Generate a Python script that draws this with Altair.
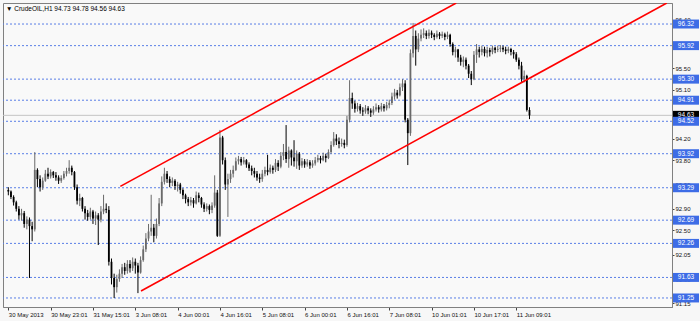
import altair as alt
import pandas as pd

# ---------------- data ----------------
x_tick_labels = ["30 May 2013", "30 May 23:01", "31 May 15:01", "3 Jun 08:01", "4 Jun 00:01",
                 "4 Jun 16:01", "5 Jun 08:01", "6 Jun 00:01", "6 Jun 16:01", "7 Jun 08:01",
                 "10 Jun 01:01", "10 Jun 17:01", "11 Jun 09:01"]

first_open = 93.25
close_ = [
    93.22, 93.12, 93.02, 92.90, 92.78, 92.82, 92.62, 92.70, 92.58, 92.52,
    93.62, 93.45, 93.30, 93.42, 93.55, 93.50, 93.58, 93.52, 93.48, 93.42,
    93.47, 93.55, 93.60, 93.66, 93.58, 93.30, 93.05, 93.10, 92.90, 92.82,
    92.75, 92.85, 92.72, 92.78, 92.70, 92.85, 92.90, 92.88, 91.92, 91.62,
    91.45, 91.60, 91.70, 91.82, 91.75, 91.88, 91.80, 91.92, 91.85, 91.72,
    91.95, 92.15, 92.35, 92.48, 92.55, 92.40, 92.62, 93.00, 93.40, 93.55,
    93.45, 93.38, 93.42, 93.32, 93.35, 93.25, 93.15, 93.08, 93.02, 93.06,
    93.00, 93.15, 93.10, 92.98, 92.90, 92.95, 92.88, 92.96, 93.20, 92.40,
    94.22, 93.80, 93.35, 93.45, 93.55, 93.62, 93.78, 93.82, 93.76, 93.80,
    93.72, 93.65, 93.60, 93.55, 93.48, 93.45, 93.55, 93.62, 93.58, 93.66,
    93.62, 93.75, 93.68, 93.88, 93.95, 93.82, 93.98, 93.85, 93.78, 93.92,
    93.70, 93.78, 93.72, 93.76, 93.70, 93.74, 93.80, 93.84, 93.80, 93.88,
    93.84, 93.95, 94.08, 94.20, 94.15, 94.10, 94.12, 94.08, 94.55, 94.95,
    94.85, 94.75, 94.80, 94.72, 94.70, 94.76, 94.72, 94.68, 94.74, 94.78,
    94.74, 94.80, 94.76, 94.82, 94.86, 94.98, 95.05, 95.00, 95.15, 95.22,
    94.55, 94.30, 95.78, 96.10, 95.85, 96.05, 96.12, 96.15, 96.10, 96.16,
    96.12, 96.08, 96.14, 96.10, 96.13, 96.08, 96.12, 95.95, 95.80, 95.85,
    95.70, 95.62, 95.66, 95.55, 95.40, 95.30, 95.75, 95.85, 95.80, 95.86,
    95.78, 95.84, 95.80, 95.88, 95.84, 95.86, 95.88, 95.85, 95.82, 95.86,
    95.80, 95.76, 95.66, 95.55, 95.30, 95.36, 94.73, 94.63,
]
high_ = [
    93.30, 93.24, 93.15, 93.05, 92.95, 92.90, 92.86, 92.76, 92.74, 92.66,
    93.95, 93.65, 93.52, 93.48, 93.62, 93.66, 93.63, 93.60, 93.58, 93.52,
    93.52, 93.60, 93.66, 93.80, 93.70, 93.60, 93.35, 93.18, 93.12, 92.95,
    92.88, 92.92, 92.88, 92.85, 92.82, 92.95, 93.16, 93.00, 92.95, 91.98,
    91.70, 91.68, 91.78, 91.88, 91.90, 91.95, 91.95, 92.00, 91.98, 91.90,
    92.02, 92.22, 92.45, 92.62, 93.16, 92.62, 92.72, 93.10, 93.50, 93.66,
    93.60, 93.50, 93.48, 93.45, 93.40, 93.38, 93.28, 93.18, 93.12, 93.12,
    93.10, 93.22, 93.20, 93.12, 93.02, 93.00, 92.98, 93.02, 93.52, 93.25,
    94.36, 94.25, 93.85, 93.55, 93.62, 93.70, 93.85, 93.88, 93.86, 93.86,
    93.82, 93.76, 93.70, 93.66, 93.60, 93.55, 93.62, 93.68, 93.90, 93.72,
    93.70, 93.82, 93.80, 93.95, 94.10, 94.45, 94.05, 94.00, 94.17, 93.98,
    93.95, 93.84, 93.82, 93.82, 93.80, 93.80, 93.86, 93.90, 93.88, 93.94,
    93.92, 94.00, 94.15, 94.32, 94.28, 94.22, 94.20, 94.18, 94.62, 95.28,
    95.05, 94.90, 94.86, 94.84, 94.78, 94.82, 94.80, 94.76, 94.80, 94.85,
    94.82, 94.86, 94.84, 94.88, 94.92, 95.05, 95.12, 95.10, 95.22, 95.30,
    95.28, 94.58, 95.85, 96.34, 96.20, 96.15, 96.22, 96.24, 96.20, 96.22,
    96.20, 96.15, 96.20, 96.17, 96.18, 96.16, 96.18, 96.14, 95.98, 95.90,
    95.86, 95.75, 95.72, 95.70, 95.58, 95.45, 95.82, 95.95, 95.90, 95.92,
    95.90, 95.90, 95.88, 95.92, 95.90, 95.92, 95.93, 95.92, 95.90, 95.90,
    95.88, 95.84, 95.80, 95.70, 95.62, 95.46, 95.38, 94.78,
]
low_ = [
    93.15, 93.08, 92.96, 92.85, 92.70, 92.68, 92.55, 92.52, 91.62, 92.30,
    92.48, 93.30, 93.22, 93.25, 93.40, 93.45, 93.46, 93.47, 93.42, 93.36,
    93.38, 93.44, 93.50, 93.55, 93.52, 93.25, 92.98, 92.95, 92.85, 92.70,
    92.68, 92.70, 92.62, 92.60, 92.23, 92.65, 92.80, 92.82, 91.85, 91.50,
    91.25, 91.35, 91.55, 91.62, 91.68, 91.70, 91.72, 91.75, 91.70, 91.34,
    91.70, 91.92, 92.10, 92.30, 92.40, 92.28, 92.35, 92.58, 92.95, 93.35,
    93.38, 93.30, 93.32, 93.25, 93.22, 93.18, 93.08, 93.00, 92.95, 92.96,
    92.92, 92.98, 93.02, 92.92, 92.84, 92.85, 92.80, 92.82, 92.92, 92.38,
    92.38, 93.72, 93.25, 92.75, 93.38, 93.48, 93.60, 93.72, 93.70, 93.72,
    93.66, 93.60, 93.52, 93.48, 93.42, 93.38, 93.40, 93.50, 93.52, 93.55,
    93.55, 93.58, 93.60, 93.65, 93.80, 93.75, 93.66, 93.70, 93.68, 93.64,
    93.62, 93.66, 93.66, 93.68, 93.64, 93.66, 93.70, 93.76, 93.74, 93.78,
    93.76, 93.82, 93.92, 94.05, 94.08, 94.02, 94.05, 94.02, 94.05, 94.50,
    94.75, 94.68, 94.70, 94.66, 94.62, 94.66, 94.65, 94.60, 94.64, 94.70,
    94.68, 94.70, 94.70, 94.72, 94.76, 94.82, 94.92, 94.94, 94.98, 95.08,
    94.50, 93.71, 94.25, 95.70, 95.55, 95.80, 96.00, 96.06, 96.04, 96.05,
    96.06, 96.02, 96.05, 96.04, 96.06, 96.02, 96.04, 95.90, 95.74, 95.70,
    95.62, 95.55, 95.52, 95.48, 95.32, 95.19, 95.28, 95.60, 95.70, 95.74,
    95.72, 95.70, 95.72, 95.76, 95.78, 95.80, 95.80, 95.80, 95.76, 95.78,
    95.74, 95.68, 95.62, 95.48, 95.25, 95.24, 94.70, 94.56,
]

levels = [96.32, 95.92, 95.30, 94.91, 94.52, 93.92, 93.29, 92.69, 92.26, 91.63, 91.25]
bid_price = 94.63
price_ticks = [96.40, 95.95, 95.50, 95.10, 94.65, 94.20, 93.80, 93.35, 92.90,
               92.50, 92.05, 91.60, 91.15]

channel_name = ["upper", "upper", "lower", "lower"]
channel_idx = [42.34, 169.3, 50.16, 248.9]
channel_price = [93.315, 96.709, 91.379, 96.709]

title_text = "\u25BC CrudeOIL,H1  94.73 94.78 94.56 94.63"

# ---------------- tables ----------------
opens = [first_open] + close_[:-1]
rows = []
for i, (o, h, l, c) in enumerate(zip(opens, high_, low_, close_)):
    rows.append(dict(i=i, o=o, h=max(h, o, c), l=min(l, o, c), c=c,
                     dir="up" if c >= o else "down"))
bars = pd.DataFrame(rows)
lev_df = pd.DataFrame({"p": levels})
bid_df = pd.DataFrame({"p": [bid_price]})
chan_df = pd.DataFrame({"g": channel_name, "i": channel_idx, "p": channel_price})
title_df = pd.DataFrame({"t": [title_text]})

FONT = "Liberation Sans"
xscale = alt.Scale(domain=[-0.12, 248.98], nice=False, zero=False)
yscale = alt.Scale(domain=[91.083, 96.709], nice=False, zero=False)

label_js = "[" + ",".join("'%s'" % s for s in x_tick_labels) + "]"
xaxis = alt.Axis(values=list(range(0, 193, 16)), labelExpr=label_js + "[round(datum.value/16)]",
                 title=None, grid=False, orient="bottom", labelAlign="left", labelPadding=1,
                 tickSize=3, labelFont=FONT, labelFontSize=6, labelColor="#111",
                 tickColor="#444", domainColor="#808080", labelOverlap=False,
                 labelBound=False, labelFlush=False)
yaxis = alt.Axis(values=price_ticks, format=".2f", title=None, grid=False, orient="right",
                 tickSize=2, labelPadding=1, labelFont=FONT, labelFontSize=6,
                 labelColor="#111", tickColor="#444", domainColor="#808080",
                 labelOverlap=False, labelBound=False, labelFlush=False)

X = lambda f: alt.X(f, type="quantitative", scale=xscale, axis=xaxis)
Y = lambda f: alt.Y(f, type="quantitative", scale=yscale, axis=yaxis)

dir_color = alt.Color("dir:N", scale=alt.Scale(domain=["up", "down"],
                                               range=["#6a6a6a", "#000000"]), legend=None)

level_lines = alt.Chart(lev_df).mark_rule(color="#5a7fe6", strokeDash=[2, 2],
                                          strokeWidth=1).encode(y=Y("p"))
bid_line = alt.Chart(bid_df).mark_rule(color="#c4c4c4", strokeWidth=1).encode(y=Y("p"))

wicks = alt.Chart(bars).mark_rule(strokeWidth=1).encode(
    x=X("i"), y=Y("l"), y2="h", color=dir_color)
bodies = alt.Chart(bars).mark_bar(width=1.8).encode(
    x=X("i"), y=Y("o"), y2="c", color=dir_color)

channel = alt.Chart(chan_df).mark_line(color="#ff0000", strokeWidth=1.6, clip=True).encode(
    x=X("i"), y=Y("p"), detail="g:N")

bid_box = alt.Chart(bid_df).transform_calculate(
    lo="datum.p - 0.083", hi="datum.p + 0.083"
).mark_rect(color="#000000").encode(
    y=Y("lo:Q"), y2="hi:Q", x=alt.value(670), x2=alt.value(696))
bid_txt = alt.Chart(bid_df).mark_text(color="#ffffff", font=FONT, fontSize=6.5,
                                      align="center", baseline="middle").encode(
    y=Y("p"), x=alt.value(683), text=alt.Text("p:Q", format=".2f"))

lev_box = alt.Chart(lev_df).transform_calculate(
    lo="datum.p - 0.083", hi="datum.p + 0.083"
).mark_rect(color="#3d6ce6").encode(
    y=Y("lo:Q"), y2="hi:Q", x=alt.value(670), x2=alt.value(696))
lev_txt = alt.Chart(lev_df).mark_text(color="#ffffff", font=FONT, fontSize=6.5,
                                      align="center", baseline="middle").encode(
    y=Y("p"), x=alt.value(683), text=alt.Text("p:Q", format=".2f"))

title_mark = alt.Chart(title_df).mark_text(align="left", baseline="middle", font=FONT,
                                           fontSize=6.5, color="#000").encode(
    x=alt.value(3), y=alt.value(6), text="t:N")

chart = alt.layer(
    level_lines, bid_line, wicks, bodies, channel,
    bid_box, bid_txt, lev_box, lev_txt, title_mark
).properties(
    width=669, height=304,
    autosize=alt.AutoSizeParams(type="none"),
    padding={"left": 3, "top": 3, "right": 28, "bottom": 14},
    background="#f7f7f7",
).configure_view(stroke="#808080", strokeWidth=1, fill="#f9f9f9")

chart.save("out.html", embed_options={"renderer": "svg", "actions": False})
